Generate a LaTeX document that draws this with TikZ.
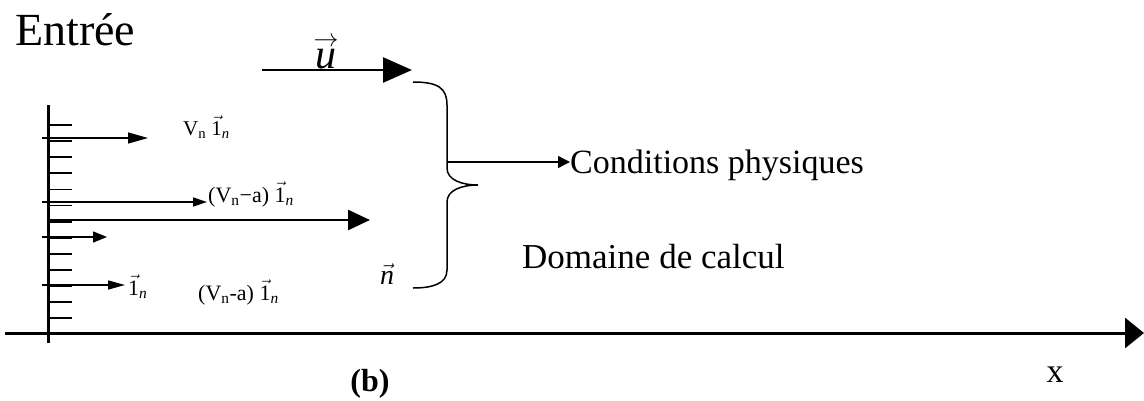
\documentclass[tikz,border=0pt]{standalone}
\usepackage{fontspec}
\setmainfont{Liberation Serif}
\usetikzlibrary{arrows.meta}
\newcommand{\fs}[1]{\fontsize{#1}{#1}\selectfont}
\newcommand{\unitvec}{$\vec{\hbox{1}}$\textsubscript{\itshape n}}
\begin{document}
\begin{tikzpicture}[x=1pt,y=-1pt,
  lbl/.style={inner sep=0pt,anchor=base west},
  thinarrow/.style={line width=1.4pt},
  thickarrow/.style={line width=2.6pt},
  tickline/.style={line width=1.8pt}]
\useasboundingbox (0,0) rectangle (1144,400);
% title
\node[lbl,font=\fs{46}] (entree) at (15,45) {Entrée};
% top arrow u
\coordinate (ua) at (262,70);
\coordinate (ub) at (412,70);
\draw[thickarrow,-{Triangle[length=29pt,width=25pt]}] (ua) -- (ub);
\node[inner sep=0pt,anchor=base,font=\fs{42}] (ulab) at (326,68) {$\stackrel{\rightarrow}{\hbox{\itshape u}}$};
% inlet wall
\coordinate (vtop) at (48,105);
\coordinate (vbot) at (48,343);
\draw[line width=3pt] (vtop) -- (vbot);
\foreach \k in {0,...,12}{
  \draw[tickline] (48,{125+16.1*\k}) -- (72,{125+16.1*\k});
}
% axis
\coordinate (ax0) at (5,333);
\coordinate (ax1) at (1144,333);
\draw[line width=3pt,-{Triangle[length=19pt,width=30pt]}] (ax0) -- (ax1);
\node[inner sep=0pt,anchor=base,font=\fs{34}] (xlab) at (1055,382) {x};
\node[inner sep=0pt,anchor=base,font=\fs{32}\bfseries] (blab) at (370,391) {(b)};
% arrow 1
\coordinate (a1s) at (42,138);
\coordinate (a1e) at (148,138);
\draw[thinarrow,-{Triangle[length=20pt,width=11pt]}] (a1s) -- (a1e);
\node[lbl,font=\fs{21}] (l1) at (183,135) {V\textsubscript{n} \unitvec};
% arrow 2
\coordinate (a2s) at (42,202);
\coordinate (a2e) at (207,202);
\draw[thinarrow,-{Triangle[length=14pt,width=9pt]}] (a2s) -- (a2e);
\node[lbl,font=\fs{22}] (l2) at (208,202) {(V\textsubscript{n}−a) \unitvec};
% arrow 3 (long)
\coordinate (a3s) at (48,220);
\coordinate (a3e) at (370,220);
\draw[thickarrow,-{Triangle[length=22pt,width=20pt]}] (a3s) -- (a3e);
% arrow 4
\coordinate (a4s) at (42,237);
\coordinate (a4e) at (107,237);
\draw[thinarrow,-{Triangle[length=14pt,width=11pt]}] (a4s) -- (a4e);
% arrow 5
\coordinate (a5s) at (42,285);
\coordinate (a5e) at (125,285);
\draw[thinarrow,-{Triangle[length=17pt,width=9pt]}] (a5s) -- (a5e);
\node[lbl,font=\fs{22}] (l5) at (128,295) {\unitvec};
% lower label
\node[lbl,font=\fs{22}] (l6) at (198,300) {(V\textsubscript{n}-a) \unitvec};
% n vector
\node[lbl,font=\fs{28}] (nlab) at (380,284) {$\vec{\hbox{\itshape n}}$};
% brace
\coordinate (btop) at (413,82);
\coordinate (btip) at (478,185);
\coordinate (bbot) at (413,288);
\draw[line width=1.5pt] (btop) .. controls (438,82) and (447,88) .. (447,105)
  -- (447,168) .. controls (447,180) and (462,185) .. (btip)
  .. controls (462,185) and (447,190) .. (447,202)
  -- (447,270) .. controls (447,284) and (432,288) .. (bbot);
% conditions arrow
\coordinate (cs) at (447,162);
\node[lbl,font=\fs{34}] (cond) at (570,173) {Conditions physiques};
\draw[thinarrow,-{Triangle[length=12pt,width=12pt]}] (cs) -- (cond.west |- cs);
% domaine
\node[lbl,font=\fs{35}] (dom) at (522,268) {Domaine de calcul};
\end{tikzpicture}
\end{document}
